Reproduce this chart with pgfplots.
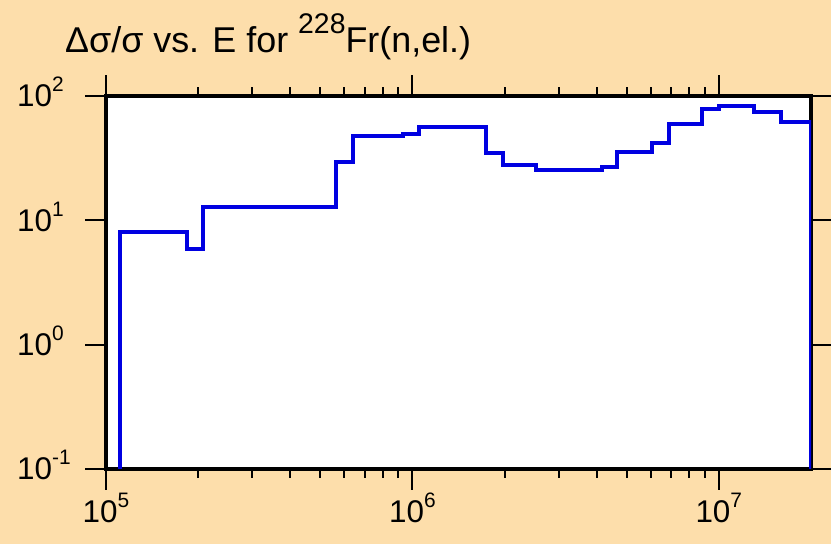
\documentclass[border=0pt]{standalone}
\usepackage{pgfplots}
\pgfplotsset{compat=1.18}
\usepackage{fontspec}
\setmainfont{Liberation Sans}
\definecolor{bgwheat}{RGB}{253,222,171}
\definecolor{lineblue}{RGB}{0,0,225}
\newcommand\tsup[1]{\raisebox{15bp}{\fontsize{21}{22}\selectfont #1}}
\begin{document}
\begin{tikzpicture}[x=1bp,y=1bp]
\fill[bgwheat] (0,0) rectangle (831,544);
\useasboundingbox (0,0) rectangle (831,544);
\node[anchor=base west,inner sep=0pt,font=\fontsize{36}{40}\selectfont] at (65,491) {Δσ/σ vs. E for \raisebox{19.5bp}{\fontsize{28.5}{30}\selectfont 228}Fr(n,el.)};
\begin{axis}[
  at={(106bp,75bp)}, anchor=south west,
  scale only axis, width=705bp, height=373bp,
  xmode=log, ymode=log,
  xmin=1e5, xmax=2e7, ymin=0.1, ymax=100,
  axis background/.style={fill=white},
  axis line style={line width=4bp, black},
  tick align=outside,
  major tick length=21bp, minor tick length=9bp,
  every tick/.style={line width=2bp, black},
  xtick={1e5,1e6,1e7},
  xticklabels={10\tsup{5},10\tsup{6},10\tsup{7}},
  ytick={0.1,1,10,100},
  yticklabels={10\tsup{-1},10\tsup{0},10\tsup{1},10\tsup{2}},
  yminorticks=false,
  xtick pos=both, ytick pos=both,
  ticklabel style={font=\fontsize{31.5}{34}\selectfont, black, inner sep=0pt},
  xticklabel style={anchor=base, yshift=-33bp},
  yticklabel style={anchor=base west, xshift=-68bp, yshift=-11bp},
]
\addplot[const plot, line width=4bp, lineblue] coordinates {
(1.107e5,0.05)
(1.107e5,8.05)
(1.84e5,5.9)
(2.07e5,12.9)
(5.63e5,29.6)
(6.4e5,48)
(9.3e5,49.5)
(1.05e6,56)
(1.74e6,34.6)
(1.97e6,27.9)
(2.53e6,25.4)
(4.17e6,27)
(4.67e6,35.6)
(6.07e6,41.6)
(6.87e6,60)
(8.83e6,78)
(1.0e7,83.5)
(1.30e7,74.8)
(1.6e7,61.4)
(1.995e7,61.4)
(1.995e7,0.05)
};
\end{axis}
\end{tikzpicture}
\end{document}
